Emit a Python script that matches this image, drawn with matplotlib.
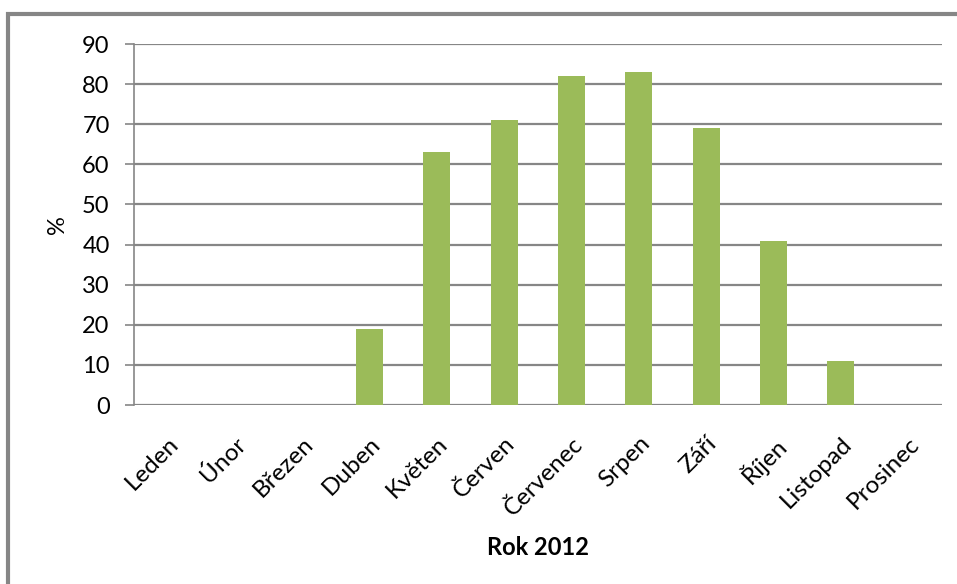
import matplotlib.pyplot as plt
import numpy as np
from matplotlib.patches import Rectangle

months = ["Leden", "Únor", "Březen", "Duben", "Květen", "Červen",
          "Červenec", "Srpen", "Září", "Říjen", "Listopad", "Prosinec"]
values = [0, 0, 0, 19, 63, 71, 82, 83, 69, 41, 11, 0]
y_ticks = [0, 10, 20, 30, 40, 50, 60, 70, 80, 90]

GREEN = "#9BBB59"
GRID = "#868686"

plt.rcParams["font.family"] = ["Lato", "DejaVu Sans"]

fig = plt.figure(figsize=(9.57, 5.84), dpi=100)
ax = fig.add_axes([0.140, 0.3065, 0.844, 0.618])

x = np.arange(len(months))
ax.bar(x, values, width=0.40, color=GREEN, zorder=3)

ax.set_xlim(-0.5, len(months) - 0.5)
ax.set_ylim(0, 90)
ax.set_yticks(y_ticks)
ax.yaxis.grid(True, color=GRID, linewidth=1.6, zorder=0)
ax.set_xticks(x)
ax.set_xticklabels(months, rotation=45, ha="right", rotation_mode="anchor")
ax.tick_params(axis="x", length=0, labelsize=17.5, pad=20)
ax.tick_params(axis="y", length=6.5, width=1.2, color=GRID, labelsize=17, pad=11)

for side in ["top", "right", "bottom"]:
    ax.spines[side].set_visible(False)
ax.spines["left"].set_color(GRID)
ax.spines["left"].set_linewidth(1.2)

ax.set_ylabel("%", fontsize=17, labelpad=10)
ax.set_xlabel("Rok 2012", fontsize=17, fontweight="bold", labelpad=12)

# outer chart frame
fig.patches.append(Rectangle((8 / 957, -0.05), 1.2, 1 - 14 / 584 + 0.05,
                             transform=fig.transFigure, fill=False,
                             edgecolor=GRID, linewidth=3))

fig.savefig("out.png", dpi=100)
